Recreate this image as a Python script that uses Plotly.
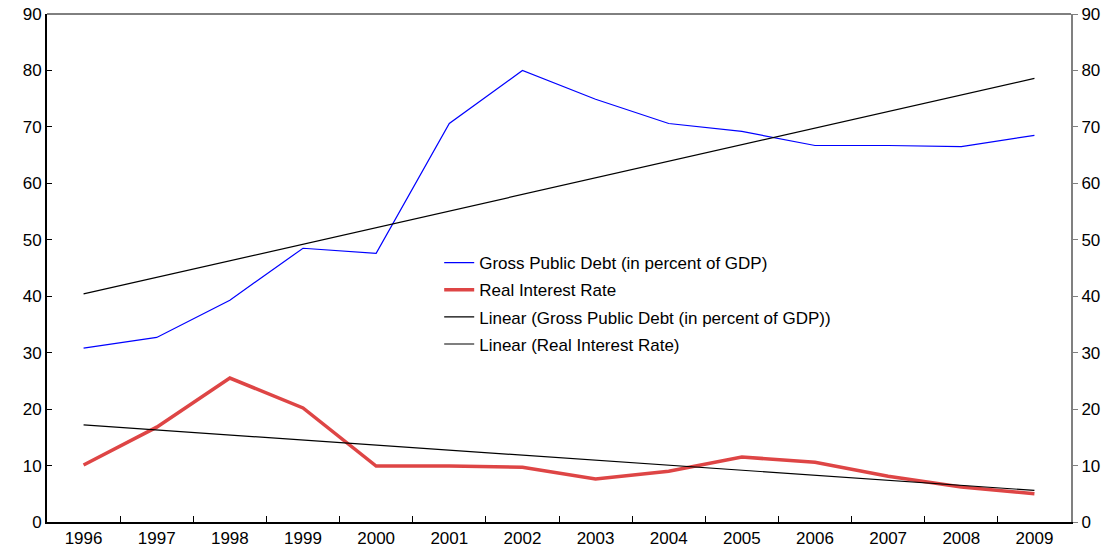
import plotly.graph_objects as go

years = ["1996", "1997", "1998", "1999", "2000", "2001", "2002",
         "2003", "2004", "2005", "2006", "2007", "2008", "2009"]
gross_debt = [30.8, 32.7, 39.3, 48.5, 47.6, 70.6, 80.0,
              74.9, 70.6, 69.2, 66.7, 66.7, 66.5, 68.5]
real_rate = [10.1, 16.8, 25.5, 20.2, 9.9, 9.9, 9.7,
             7.6, 9.0, 11.5, 10.6, 8.1, 6.2, 5.0]
trend_years = ["1996", "2009"]
trend_debt = [40.4, 78.6]
trend_rate = [17.2, 5.6]
y_ticks = [0, 10, 20, 30, 40, 50, 60, 70, 80, 90]

FONT = "Liberation Sans, Arial, sans-serif"

fig = go.Figure()
fig.add_trace(go.Scatter(x=years, y=gross_debt, mode="lines",
                         name="Gross Public Debt (in percent of GDP)",
                         line=dict(color="#0000FF", width=1.2), legendgroup="a"))
fig.add_trace(go.Scatter(x=years, y=real_rate, mode="lines",
                         name="Real Interest Rate",
                         line=dict(color="#DE4545", width=3.5), legendgroup="b"))
fig.add_trace(go.Scatter(x=trend_years, y=trend_debt, mode="lines",
                         name="Linear (Gross Public Debt (in percent of GDP))",
                         line=dict(color="#000000", width=1.2), legendgroup="c"))
fig.add_trace(go.Scatter(x=trend_years, y=trend_rate, mode="lines",
                         name="Linear (Real Interest Rate)",
                         line=dict(color="#000000", width=1.2), legendgroup="d"))
# invisible trace to activate right axis
fig.add_trace(go.Scatter(x=years, y=gross_debt, yaxis="y2", mode="lines",
                         line=dict(width=0), showlegend=False, hoverinfo="skip",
                         opacity=0))

fig.update_layout(
    width=1115, height=550,
    margin=dict(l=47, r=44, t=14, b=28, autoexpand=False),
    plot_bgcolor="white", paper_bgcolor="white",
    font=dict(family=FONT, size=16, color="black"),
    xaxis=dict(type="category", categoryorder="array", categoryarray=years,
               range=[-0.5, 13.5], showline=True, linecolor="black", linewidth=2,
               ticks="inside", tickson="boundaries", ticklen=6, tickcolor="black",
               showgrid=False, zeroline=False, tickfont=dict(size=17),
               automargin=False),
    yaxis=dict(range=[0, 90], tickvals=y_ticks, showline=True, linecolor="black",
               linewidth=2, ticks="inside", ticklen=5, tickcolor="black",
               showgrid=False, zeroline=False, tickfont=dict(size=17),
               automargin=False),
    yaxis2=dict(range=[0, 90], tickvals=y_ticks, overlaying="y", side="right",
                showline=True, linecolor="#808080", linewidth=2, ticks="outside",
                ticklen=5, tickcolor="#808080", showgrid=False, zeroline=False,
                tickfont=dict(size=17), automargin=False),
    legend=dict(x=0.383, y=0.545, xanchor="left", yanchor="top",
                bgcolor="rgba(0,0,0,0)", font=dict(size=17),
                tracegroupgap=2),
    showlegend=True,
    shapes=[dict(type="line", xref="paper", yref="paper", x0=0, x1=1, y0=1, y1=1,
                 line=dict(color="black", width=1))],
)

fig.write_html("out.html", config={"displayModeBar": False},
               post_script="document.body.style.margin='0';document.body.style.overflow='hidden';")
